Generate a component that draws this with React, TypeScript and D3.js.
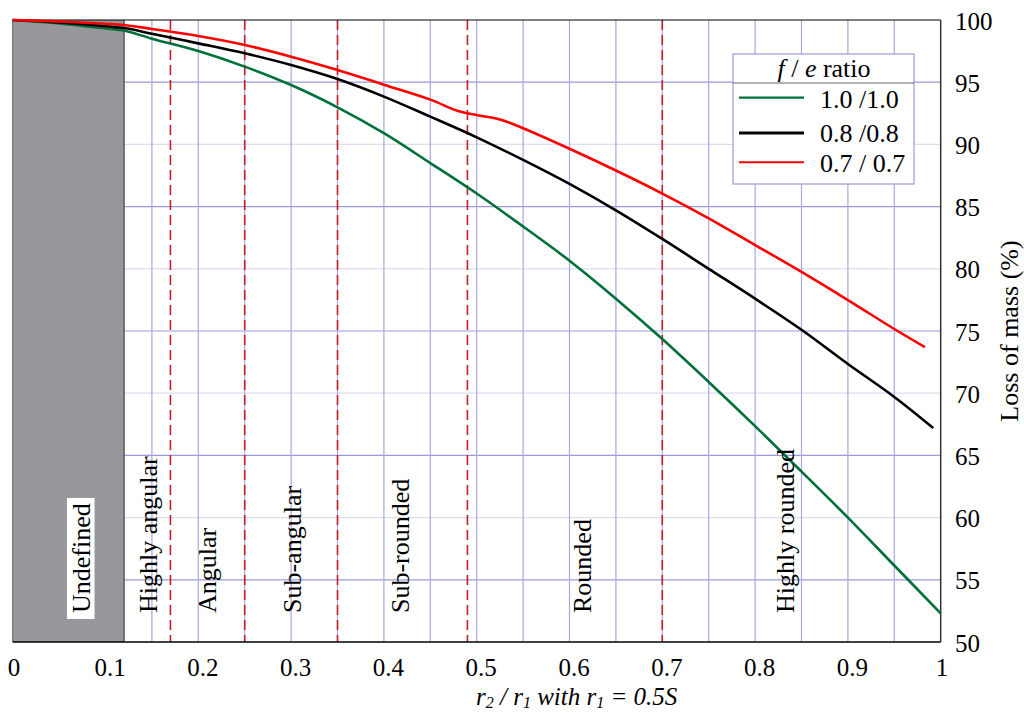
import React from "react";
import * as d3 from "d3";

const xTicks = [0, 0.1, 0.2, 0.3, 0.4, 0.5, 0.6, 0.7, 0.8, 0.9, 1];
const xTickLabels = ["0", "0.1", "0.2", "0.3", "0.4", "0.5", "0.6", "0.7", "0.8", "0.9", "1"];
const yTicks = [50, 55, 60, 65, 70, 75, 80, 85, 90, 95, 100];
const xGrid = [0.05, 0.1, 0.15, 0.2, 0.25, 0.3, 0.35, 0.4, 0.45, 0.5, 0.55, 0.6, 0.65, 0.7, 0.75, 0.8, 0.85, 0.9, 0.95];

const undefinedLimit = 0.12;
const boundaries = [0.17, 0.25, 0.35, 0.49, 0.7];
const regionNames = ["Highly angular", "Angular", "Sub-angular", "Sub-rounded", "Rounded", "Highly rounded"];
const regionLabelX = [0.1555, 0.219, 0.3107, 0.427, 0.623, 0.842];
const undefinedLabelX = 0.0833;

const greenX = [0, 0.05, 0.1, 0.12, 0.15, 0.2, 0.25, 0.3, 0.35, 0.4, 0.45, 0.5, 0.55, 0.6, 0.65, 0.7, 0.75, 0.8, 0.85, 0.9, 0.95, 1.0];
const greenY = [100, 99.72, 99.32, 99.15, 98.5, 97.5, 96.25, 94.77, 92.98, 90.9, 88.5, 86.05, 83.4, 80.65, 77.6, 74.35, 70.9, 67.35, 63.7, 60.0, 56.15, 52.3];

const blackX = [0, 0.05, 0.1, 0.12, 0.15, 0.2, 0.25, 0.3, 0.35, 0.4, 0.45, 0.5, 0.55, 0.6, 0.65, 0.7, 0.75, 0.8, 0.85, 0.9, 0.95, 0.992];
const blackY = [100, 99.8, 99.5, 99.35, 98.9, 98.12, 97.32, 96.38, 95.25, 93.84, 92.23, 90.57, 88.75, 86.82, 84.7, 82.4, 80.0, 77.6, 75.1, 72.35, 69.7, 67.2];

const redX = [0, 0.05, 0.1, 0.12, 0.15, 0.2, 0.25, 0.3, 0.35, 0.4, 0.45, 0.48, 0.5, 0.525, 0.55, 0.6, 0.65, 0.7, 0.75, 0.8, 0.85, 0.9, 0.95, 0.983];
const redY = [100, 99.88, 99.7, 99.6, 99.28, 98.71, 97.99, 97.05, 95.98, 94.8, 93.6, 92.68, 92.36, 92.0, 91.3, 89.65, 87.9, 86.05, 84.06, 81.91, 79.75, 77.49, 75.16, 73.7];

const seriesNames = ["1.0 /1.0", "0.8 /0.8", "0.7 / 0.7"];
const seriesColors = ["#00703a", "#000000", "#ff0000"];

const FONT = "'Liberation Serif', 'Times New Roman', serif";

export default function App() {
  const W = 1024, H = 713;
  const x = d3.scaleLinear().domain([0, 1]).range([12.7, 940.7]);
  const y = d3.scaleLinear().domain([50, 100]).range([642, 20]);
  const line = d3.line<[number, number]>().x(d => x(d[0])).y(d => y(d[1])).curve(d3.curveCatmullRom.alpha(0.5));
  const series = [
    greenX.map((v, i) => [v, greenY[i]] as [number, number]),
    blackX.map((v, i) => [v, blackY[i]] as [number, number]),
    redX.map((v, i) => [v, redY[i]] as [number, number]),
  ];
  const x0 = x(0), x1 = x(1), yTop = y(100), yBot = y(50);

  return (
    <svg width={W} height={H} style={{ position: "absolute", left: 0, top: 0, background: "#fff" }} fontFamily={FONT}>
      <rect x={0} y={0} width={W} height={H} fill="#fff" />
      {/* grid */}
      {yTicks.filter(t => t > 50 && t < 100).map(t => (
        <line key={"hy" + t} x1={x0} x2={x1} y1={y(t)} y2={y(t)}
          stroke={t % 10 === 5 ? "#9a9ad8" : "#dcdcec"} strokeWidth={1.2} />
      ))}
      {xGrid.map(t => (
        <line key={"vx" + t} x1={x(t)} x2={x(t)} y1={yTop} y2={yBot} stroke="#a8a8e0" strokeWidth={1.2} />
      ))}
      {/* undefined region */}
      <rect x={x0} y={yTop} width={x(undefinedLimit) - x0} height={yBot - yTop} fill="#98989c" />
      <line x1={x(undefinedLimit)} x2={x(undefinedLimit)} y1={yTop} y2={yBot} stroke="#5a5a5a" strokeWidth={1.5} />
      <line x1={x0} x2={x0} y1={yTop} y2={yBot} stroke="#707070" strokeWidth={1.2} />
      {/* boundaries */}
      {boundaries.map(b => (
        <line key={"b" + b} x1={x(b)} x2={x(b)} y1={yTop} y2={yBot} stroke="#c41e28" strokeWidth={1.6} strokeDasharray="10,5" />
      ))}
      {/* frame */}
      <line x1={x0} x2={x1} y1={yTop} y2={yTop} stroke="#000" strokeWidth={1.2} />
      <line x1={x0} x2={x1} y1={yBot} y2={yBot} stroke="#000" strokeWidth={1.5} />
      <line x1={x1} x2={x1} y1={yTop} y2={yBot} stroke="#333" strokeWidth={1.5} />
      {/* curves */}
      {series.map((s, i) => (
        <path key={"s" + i} d={line(s) || ""} fill="none" stroke={seriesColors[i]} strokeWidth={2.6} strokeLinejoin="round" />
      ))}
      {/* undefined label */}
      <rect x={x(undefinedLabelX) - 23} y={498} width={27.5} height={121} fill="#fff" />
      <text transform={`translate(${x(undefinedLabelX)},613) rotate(-90)`} fontSize={26} fill="#000">Undefined</text>
      {regionNames.map((n, i) => (
        <text key={n} transform={`translate(${x(regionLabelX[i])},613) rotate(-90)`} fontSize={26} fill="#000">{n}</text>
      ))}
      {/* x tick labels */}
      {xTicks.map((t, i) => (
        <text key={"xt" + t} x={x(t) + (xTickLabels[i].includes(".") ? 4.5 : 1.3)} y={676} fontSize={25} textAnchor="middle">{xTickLabels[i]}</text>
      ))}
      {/* y tick labels */}
      {yTicks.map(t => (
        <text key={"yt" + t} x={955} y={y(t) + 9.5} fontSize={25}>{t}</text>
      ))}
      {/* axis titles */}
      <text x={476} y={705} fontSize={25} fontStyle="italic">
        <tspan>r</tspan><tspan fontSize={16} dy={3}>2</tspan><tspan dy={-3}> / r</tspan><tspan fontSize={16} dy={3}>1</tspan><tspan dy={-3}> with r</tspan><tspan fontSize={16} dy={3}>1</tspan><tspan dy={-3}> = 0.5S</tspan>
      </text>
      <text transform={`translate(1018,331) rotate(-90)`} fontSize={26} textAnchor="middle">Loss of mass (%)</text>
      {/* legend */}
      <rect x={733} y={54} width={181} height={130} fill="#fff" stroke="#9a9ad8" strokeWidth={1.2} />
      <line x1={733} x2={914} y1={83} y2={83} stroke="#666" strokeWidth={1.2} />
      <text x={824} y={76.5} fontSize={26} textAnchor="middle">
        <tspan fontStyle="italic">f</tspan><tspan> / </tspan><tspan fontStyle="italic">e</tspan><tspan> ratio</tspan>
      </text>
      {seriesNames.map((n, i) => {
        const ly = [97.7, 133, 162.3][i];
        const ty = [108, 141.7, 171.5][i];
        return (
          <g key={n}>
            <line x1={739} x2={804} y1={ly} y2={ly} stroke={seriesColors[i]} strokeWidth={[2.2, 3, 2][i]} />
            <text x={820} y={ty} fontSize={26}>{n}</text>
          </g>
        );
      })}
    </svg>
  );
}
